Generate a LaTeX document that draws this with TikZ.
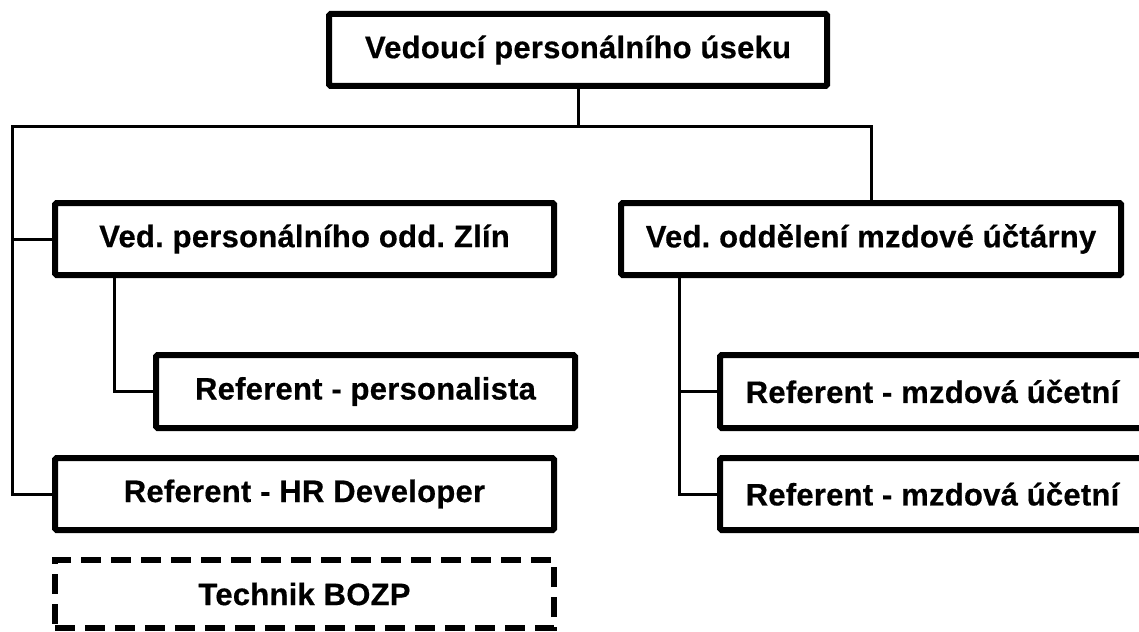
\documentclass[tikz,border=0pt]{standalone}
\usepackage{fontspec}
\setmainfont{Liberation Sans}[BoldFeatures={FakeBold=0.5,LetterSpace=0.8}]
\frenchspacing
\tikzset{
  box/.style={draw=black, line width=6pt, rounded corners=1.5pt, fill=white,
    inner sep=0pt, minimum height=72pt, align=center,
    font=\fontsize{31}{36}\selectfont\bfseries},
  dbox/.style={box, dash pattern=on 20pt off 10pt, rounded corners=0pt},
  conn/.style={draw=black, line width=3pt}
}
\begin{document}
\begin{tikzpicture}[x=1pt,y=-1pt]
\useasboundingbox (0,0) rectangle (1139,631);
\clip (0,0) rectangle (1139,631);
% nodes
\node[box, minimum width=498pt] (top) at (578,50) {Vedoucí personálního úseku};
\node[box, minimum width=499pt] (zlin) at (304.5,239) {Ved. personálního odd. Zlín};
\node[box, minimum width=500pt] (mzd) at (871,239) {Ved. oddělení mzdové účtárny};
\node[box, minimum width=419pt, minimum height=73pt] (pers) at (365.5,391.5) {Referent - personalista};
\node[box, minimum width=499pt] (hr) at (304.5,494) {Referent - HR Developer};
\node[dbox, minimum width=499pt, minimum height=68pt] (bozp) at (304.5,594) {Technik BOZP};
\node[box, minimum width=425pt, minimum height=73pt] (ref1) at (932.5,391.5) {Referent - mzdová účetní};
\node[box, minimum width=425pt] (ref2) at (932.5,494) {Referent - mzdová účetní};
% helper coordinates
\coordinate (bl) at (12,127);
\coordinate (sx) at (114,0);
\coordinate (rx) at (679,0);
% connectors
\draw[conn] (top.south) -- (top.south |- bl);
\draw[conn] (mzd.north) |- (bl) |- (hr.west);
\draw[conn] (bl |- zlin.west) -- (zlin.west);
\draw[conn] (zlin.south -| sx) |- (pers.west);
\draw[conn] (mzd.south -| rx) |- (ref2.west);
\draw[conn] (rx |- ref1.west) -- (ref1.west);
\end{tikzpicture}
\end{document}
